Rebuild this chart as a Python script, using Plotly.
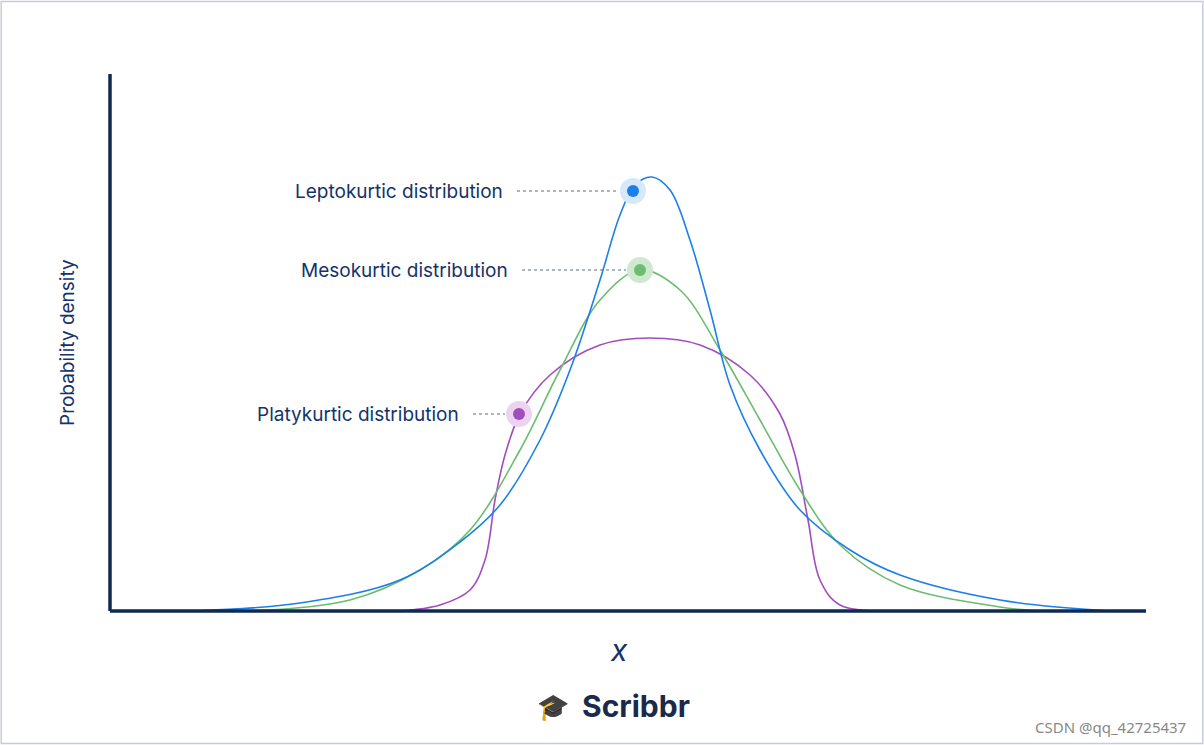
import plotly.graph_objects as go

# values (x position, density height)
lepto_x = [195, 300, 400, 460, 500, 540, 570, 600, 620, 635, 652, 670, 690, 710, 730, 760, 800, 850, 900, 1000, 1110]
lepto_y = [0, 8, 31, 69, 106, 171, 241, 331, 396, 426, 434, 421, 371, 301, 226, 161, 101, 61, 36, 11, 0]
meso_x = [250, 350, 420, 470, 520, 560, 600, 640, 680, 720, 760, 800, 840, 900, 1000, 1040]
meso_y = [0, 11, 41, 81, 161, 241, 311, 341, 321, 261, 191, 121, 66, 26, 4, 0]
platy_x = [400, 440, 470, 485, 495, 505, 520, 550, 600, 650, 700, 750, 780, 795, 808, 820, 840, 900]
platy_y = [0, 6, 21, 51, 111, 156, 197, 236, 266, 273, 266, 236, 197, 156, 91, 31, 6, 0]

labels = ["Leptokurtic distribution", "Mesokurtic distribution", "Platykurtic distribution"]
marker_x = [633, 640, 519]
marker_y = [420, 341, 197]
label_end = [505, 510, 461]
colors = ["#1a80e8", "#6cbd6f", "#a24dbd"]
halos = ["#d6e8fa", "#cfe8d0", "#ecd4f0"]
navy = "#14336b"

fig = go.Figure()
for xs, ys, c in [(platy_x, platy_y, colors[2]), (meso_x, meso_y, colors[1]), (lepto_x, lepto_y, colors[0])]:
    fig.add_trace(go.Scatter(x=xs, y=ys, mode="lines", line=dict(color=c, width=1.6, shape="spline", smoothing=1.0),
                             hoverinfo="skip", showlegend=False))

for i in range(3):
    fig.add_trace(go.Scatter(x=[label_end[i] + 12, marker_x[i] - 14], y=[marker_y[i]] * 2, mode="lines",
                             line=dict(color="#5a6b85", width=1, dash="dot"), showlegend=False, hoverinfo="skip"))
    fig.add_trace(go.Scatter(x=[marker_x[i]], y=[marker_y[i]], mode="markers",
                             marker=dict(size=26, color=halos[i]), showlegend=False, hoverinfo="skip"))
    fig.add_trace(go.Scatter(x=[marker_x[i]], y=[marker_y[i]], mode="markers",
                             marker=dict(size=12, color=colors[i]), showlegend=False, hoverinfo="skip"))
    fig.add_annotation(x=label_end[i], y=marker_y[i], text=labels[i], showarrow=False, xanchor="right",
                       font=dict(size=19, color=navy, family="Inter"))

# axes
fig.add_shape(type="line", x0=110, x1=1146, y0=0, y1=0, line=dict(color="#0f2a52", width=3.5))
fig.add_shape(type="line", x0=110, x1=110, y0=0, y1=537, line=dict(color="#0f2a52", width=3.5))
fig.add_annotation(x=619, y=-39, text="<i>x</i>", showarrow=False, font=dict(size=30, color=navy, family="Inter"))
fig.add_annotation(x=67, y=268, text="Probability density", textangle=-90, showarrow=False,
                   font=dict(size=19, color=navy, family="Inter"))
fig.add_annotation(x=636, y=-95, text="<b>Scribbr</b>", showarrow=False,
                   font=dict(size=30, color="#1b2a4a", family="Inter"))
fig.add_annotation(x=553, y=-95, text="🎓", showarrow=False, font=dict(size=26, color="#f26a3d"))
fig.add_annotation(x=1110, y=-116, text="CSDN @qq_42725437", showarrow=False,
                   font=dict(size=15, color="#888888", family="Noto Sans"))
fig.add_shape(type="rect", xref="paper", yref="paper", x0=0.001, x1=0.999, y0=0.002, y1=0.998,
              line=dict(color="#c8ccd8", width=1.5))

fig.update_layout(width=1204, height=745, margin=dict(l=0, r=0, t=0, b=0),
                  plot_bgcolor="white", paper_bgcolor="white",
                  xaxis=dict(range=[0, 1204], visible=False, fixedrange=True),
                  yaxis=dict(range=[-134, 611], visible=False, fixedrange=True))
fig.write_html("out.html", config={"displayModeBar": False})

# drop the default page margin so the figure sits at the window corner
with open("out.html") as f:
    html = f.read()
html = html.replace("<body>", '<body style="margin:0;overflow:hidden">', 1)
with open("out.html", "w") as f:
    f.write(html)
